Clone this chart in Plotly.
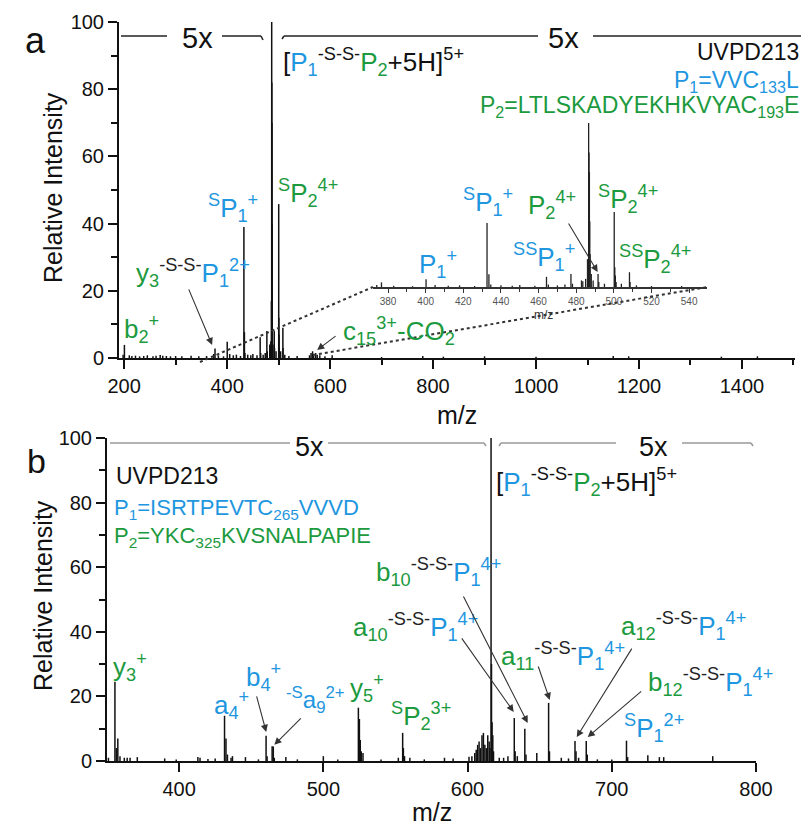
import plotly.graph_objects as go

W, H = 809, 827
OFF = 8  # page offset of the figure inside the browser window
BLUE = "#1E96E0"
GREEN = "#1C9A3E"
DARK = "#222222"
FONT = "Arial, Liberation Sans, sans-serif"

# ---------------- data ----------------
a_mz = [198, 200.5, 210, 215, 222, 230, 238, 245, 256, 262, 270, 275, 282, 290, 300, 312, 330, 345,
        360, 374, 376.5, 383, 393, 400.2, 405, 412, 418, 426, 432.6, 433.6, 434.6, 440, 446, 450,
        458, 464.2, 465.2, 470, 474, 477.2, 478, 482.8, 483.5, 485, 486.0, 486.6, 486.8, 487.0,
        487.2, 487.4, 488.0, 489, 491.6, 492, 495, 500.2, 500.5, 500.8, 501.2, 504, 508.3, 508.6,
        512, 520, 536, 560, 563, 566, 568, 572, 575, 580, 590, 604, 700, 780, 820, 900, 1000,
        1150, 1180, 1360, 1430]
a_int = [1.0, 3.9, 0.8, 0.6, 0.7, 0.5, 0.6, 0.8, 0.5, 0.7, 0.9, 0.7, 0.6, 0.5, 0.6, 0.5, 0.7, 0.5,
         0.6, 1.2, 2.8, 0.8, 0.5, 4.8, 1.2, 0.8, 1.0, 0.6, 39, 7.7, 1.5, 1.0, 0.8, 1.2,
         0.8, 6.2, 1.5, 1.0, 1.5, 8.0, 2.0, 4.0, 3.5, 5.0, 17, 100, 82, 70,
         40, 20, 8, 4, 8, 3, 2, 45.8, 12, 7, 3, 2, 9, 3,
         1.0, 0.6, 0.6, 0.8, 1.5, 2.0, 1.2, 1.5, 1.0, 0.8, 0.5, 0.8, 0.3, 0.6, 0.4, 0.5, 0.4,
         0.6, 0.5, 0.4, 0.5]

b_mz = [351, 355.5, 356.5, 357.5, 359, 362, 364, 366, 371, 390, 398, 413, 414.5, 420, 425, 431.5,
        432.5, 433.5, 436, 437, 446, 455, 460.3, 461, 464.5, 465.3, 466, 474, 482, 500, 510,
        524.3, 525, 525.6, 526.3, 527.5, 540, 552, 555, 555.5, 556.3, 560, 570, 584, 590, 601,
        603, 605, 606, 607, 608, 609, 610, 611, 612, 613, 614, 615, 615.5, 616.3, 616.6, 617,
        617.5, 618, 622, 625, 628, 632.4, 633, 634.5, 639.7, 640.5, 648, 656.2, 656.8, 665, 670,
        674.5, 675.2, 677, 682.3, 683, 690, 700, 710.2, 711, 725, 733, 736, 770]
b_int = [1.0, 24.5, 4, 7, 1.5, 1, 1, 1, 1.2, 0.8, 0.5, 1.2, 1.0, 0.6, 0.8, 14,
         7, 2, 1, 1.5, 1.2, 0.5, 7.8, 1.5, 4.6, 4.5, 1, 1.2, 0.5, 1.5, 0.5,
         16.5, 13, 6.5, 3, 2.5, 0.5, 1, 8.7, 4, 1.5, 1.0, 0.5, 1, 0.8, 1.3,
         1.5, 2.5, 3.5, 5, 6, 4, 8, 8.7, 5, 4, 8, 6, 4, 100, 30, 12,
         8, 3, 1, 1, 1.5, 13.3, 3, 1.5, 10, 2, 2.5, 18, 3, 1, 0.8,
         6.2, 3, 1, 6.2, 2, 0.5, 0.5, 6.3, 1.2, 1.8, 1.2, 1.2, 1.5]

a_xticks = [200, 400, 600, 800, 1000, 1200, 1400]
b_xticks = [400, 500, 600, 700, 800]
inset_xticks = [380, 400, 420, 440, 460, 480, 500, 520, 540]
y_ticks = [0, 20, 40, 60, 80, 100]


def sticks(mz, inten):
    xs, ys = [], []
    for m, v in zip(mz, inten):
        xs += [m, m, None]
        ys += [0, v, None]
    return xs, ys


def px(x):
    return (x - OFF) / W


def py(y):
    return 1 - (y - OFF) / H


fig = go.Figure()
ax_, ay_ = sticks(a_mz, a_int)
bx_, by_ = sticks(b_mz, b_int)
fig.add_trace(go.Scatter(x=ax_, y=ay_, mode="lines", line=dict(color="#111", width=1.5),
                         xaxis="x", yaxis="y", hoverinfo="skip", showlegend=False))
fig.add_trace(go.Scatter(x=ax_, y=ay_, mode="lines", line=dict(color="#222", width=1.3),
                         xaxis="x3", yaxis="y3", hoverinfo="skip", showlegend=False))
fig.add_trace(go.Scatter(x=bx_, y=by_, mode="lines", line=dict(color="#111", width=1.5),
                         xaxis="x2", yaxis="y2", hoverinfo="skip", showlegend=False))

axis_common = dict(showline=True, linecolor="#111", linewidth=2, ticks="outside",
                   tickcolor="#111", tickwidth=2, ticklen=9, showgrid=False, zeroline=False,
                   automargin=False,
                   tickfont=dict(family=FONT, size=20, color="#111"))

fig.update_layout(
    width=W, height=H, margin=dict(l=0, r=0, t=0, b=0, pad=0, autoexpand=False),
    paper_bgcolor="white", plot_bgcolor="rgba(0,0,0,0)", showlegend=False,
    xaxis=dict(domain=[px(119), px(795)], range=[190, 1503], anchor="y",
               tickvals=a_xticks, minor=dict(dtick=100, tick0=100, ticklen=5, tickwidth=2,
                                              tickcolor="#111", ticks="outside"),
               **axis_common),
    yaxis=dict(domain=[py(358), py(22)], range=[0, 100], anchor="x",
               tickvals=y_ticks, minor=dict(dtick=10, tick0=0, ticklen=6, tickwidth=2,
                                            tickcolor="#111", ticks="outside"),
               **axis_common),
    xaxis2=dict(domain=[px(107), px(756)], range=[350, 800], anchor="y2",
                tickvals=b_xticks, **axis_common),
    yaxis2=dict(domain=[py(761), py(438)], range=[0, 100], anchor="x2",
                tickvals=y_ticks, minor=dict(dtick=10, tick0=0, ticklen=6, tickwidth=2,
                                             tickcolor="#111", ticks="outside"),
                **axis_common),
    xaxis3=dict(domain=[px(373), px(707)], range=[372, 549.5], anchor="y3",
                tickvals=inset_xticks, showline=True, linecolor="#333", linewidth=1.5,
                ticks="outside", ticklen=4, tickwidth=1, tickcolor="#333", showgrid=False,
                zeroline=False, automargin=False,
                tickfont=dict(family=FONT, size=10, color="#555"),
                minor=dict(dtick=10, tick0=370, ticklen=3, tickwidth=1, tickcolor="#333",
                           ticks="outside")),
    yaxis3=dict(domain=[py(287), py(123)], range=[0, 100], anchor="x3", visible=False),
)


def c(col, s):
    return f"<span style='color:{col}'>{s}</span>"


ann = []


def text(s, x, y, size=26, xanchor="left", color="#111", angle=0):
    ann.append(dict(text=s, x=px(x), y=py(y), xref="paper", yref="paper", showarrow=False,
                    xanchor=xanchor, yanchor="middle", textangle=angle,
                    font=dict(family=FONT, size=size, color=color)))


def arrow(x, y, dx, dy, xr, yr):
    ann.append(dict(text="", x=x, y=y, xref=xr, yref=yr, ax=dx, ay=dy, showarrow=True,
                    arrowhead=2, arrowsize=1.3, arrowwidth=1.1, arrowcolor="#333"))


SS = c(DARK, "<sup>-S-S-</sup>")
prec = "[" + c(BLUE, "P<sub>1</sub>") + "<sup>-S-S-</sup>" + c(GREEN, "P<sub>2</sub>") + "+5H]<sup>5+</sup>"

# ---- panel a ----
text("a", 23, 40, size=36)
text("5x", 197, 38, size=29, xanchor="center")
text("5x", 563, 38, size=29, xanchor="center")
text(prec, 281, 62, size=26)
text("UVPD213", 801, 52, size=23, xanchor="right")
text(c(BLUE, "P<sub>1</sub>=VVC<sub>133</sub>L"), 801, 81, size=23, xanchor="right")
text(c(GREEN, "P<sub>2</sub>=LTLSKADYEKHKVYAC<sub>193</sub>E"), 801, 106, size=23, xanchor="right")
text(c(BLUE, "<sup>S</sup>P<sub>1</sub><sup>+</sup>"), 206, 208)
text(c(GREEN, "<sup>S</sup>P<sub>2</sub><sup>4+</sup>"), 276, 193)
text(c(GREEN, "y<sub>3</sub>") + SS + c(BLUE, "P<sub>1</sub><sup>2+</sup>"), 134, 273)
text(c(GREEN, "b<sub>2</sub><sup>+</sup>"), 122, 329)
text(c(GREEN, "c<sub>15</sub><sup>3+</sup>-CO<sub>2</sub>"), 341, 331)
text(c(BLUE, "P<sub>1</sub><sup>+</sup>"), 417, 264)
text(c(BLUE, "<sup>S</sup>P<sub>1</sub><sup>+</sup>"), 461, 202)
text(c(BLUE, "<sup>SS</sup>P<sub>1</sub><sup>+</sup>"), 511, 257)
text(c(GREEN, "P<sub>2</sub><sup>4+</sup>"), 526, 205)
text(c(GREEN, "<sup>S</sup>P<sub>2</sub><sup>4+</sup>"), 596, 199)
text(c(GREEN, "<sup>SS</sup>P<sub>2</sub><sup>4+</sup>"), 617, 259)
text("m/z", 543, 315, size=12, xanchor="center", color="#333")
text("m/z", 457, 415, size=25, xanchor="center")
text("Relative Intensity", 53, 188, size=25, xanchor="center", angle=-90)
arrow(370.9, 3.9, -24, -57, "x", "y")
arrow(574.8, 2.4, 20, -15, "x", "y")
arrow(491.4, 9.1, -30, -50, "x3", "y3")

# ---- panel b ----
text("b", 25, 461, size=34)
text("5x", 309, 447, size=27, xanchor="center")
text("5x", 653, 447, size=27, xanchor="center")
text(prec, 494, 482, size=26)
text("UVPD213", 114, 476, size=23)
text(c(BLUE, "P<sub>1</sub>=ISRTPEVTC<sub>265</sub>VVVD"), 112, 509, size=22)
text(c(GREEN, "P<sub>2</sub>=YKC<sub>325</sub>KVSNALPAPIE"), 112, 537, size=22)
text(c(GREEN, "b<sub>10</sub>") + SS + c(BLUE, "P<sub>1</sub><sup>4+</sup>"), 374, 572)
text(c(GREEN, "a<sub>10</sub>") + SS + c(BLUE, "P<sub>1</sub><sup>4+</sup>"), 351, 627)
text(c(GREEN, "a<sub>11</sub>") + SS + c(BLUE, "P<sub>1</sub><sup>4+</sup>"), 499, 656)
text(c(GREEN, "a<sub>12</sub>") + SS + c(BLUE, "P<sub>1</sub><sup>4+</sup>"), 619, 626)
text(c(GREEN, "b<sub>12</sub>") + SS + c(BLUE, "P<sub>1</sub><sup>4+</sup>"), 646, 682)
text(c(BLUE, "<sup>S</sup>P<sub>1</sub><sup>2+</sup>"), 622, 728)
text(c(GREEN, "<sup>S</sup>P<sub>2</sub><sup>3+</sup>"), 389, 716)
text(c(GREEN, "y<sub>5</sub><sup>+</sup>"), 348, 688)
text(c(BLUE, "<sup>-S</sup>a<sub>9</sub><sup>2+</sup>"), 284, 700, size=24)
text(c(BLUE, "a<sub>4</sub><sup>+</sup>"), 212, 705)
text(c(BLUE, "b<sub>4</sub><sup>+</sup>"), 244, 677)
text(c(GREEN, "y<sub>3</sub><sup>+</sup>"), 111, 667)
text("m/z", 432, 812, size=25, xanchor="center")
text("Relative Intensity", 43, 596, size=25, xanchor="center", angle=-90)
arrow(460.4, 9.0, -10, -37, "x2", "y2")
arrow(466.0, 5.0, 28, -28, "x2", "y2")
arrow(641.7, 11.8, -65, -128, "x2", "y2")
arrow(632.0, 15.2, -53, -75, "x2", "y2")
arrow(657.0, 18.9, -12, -35, "x2", "y2")
arrow(675.7, 7.4, 56, -90, "x2", "y2")
arrow(683.3, 7.4, 55, -47, "x2", "y2")

fig.update_layout(annotations=ann)

# ---- bracket lines and zoom guides ----
shapes = []


def seg(x0, y0, x1, y1, color="#222", width=1.5, dash="solid"):
    shapes.append(dict(type="line", xref="paper", yref="paper", x0=px(x0), y0=py(y0),
                       x1=px(x1), y1=py(y1), line=dict(color=color, width=width, dash=dash)))


seg(121, 36, 167, 36)
seg(222, 36, 261, 36)
seg(261, 36, 263, 40)
seg(282, 39, 284, 36)
seg(284, 36, 538, 36)
seg(593, 36, 802, 36)
seg(802, 36, 804, 40)
GR = "#999999"
seg(110, 443, 290, 443, GR)
seg(328, 443, 484, 443, GR)
seg(484, 443, 486, 446, GR)
seg(499, 446, 501, 443, GR)
seg(501, 443, 616, 443, GR)
seg(682, 443, 751, 443, GR)
seg(751, 443, 753, 446, GR)
seg(200, 362, 373, 287, "#333", 2, "dot")
seg(313, 355, 707, 287, "#333", 2, "dot")
fig.update_layout(shapes=shapes)

fig.write_html("out.html")
